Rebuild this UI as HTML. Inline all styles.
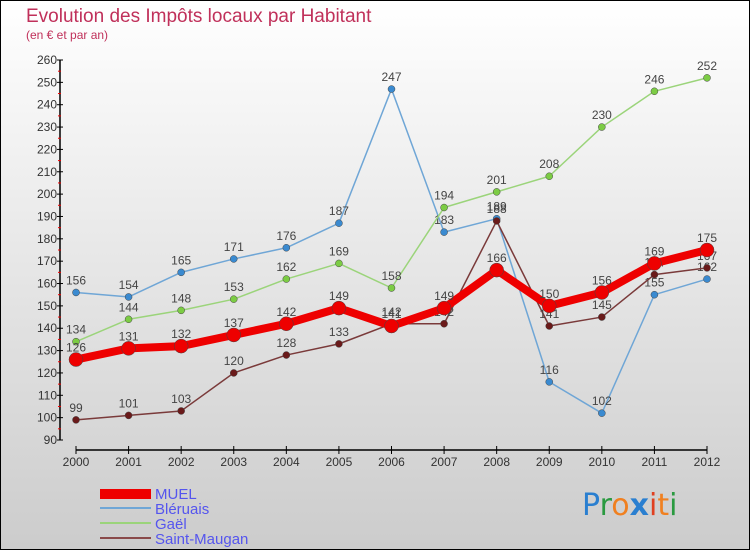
<!DOCTYPE html>
<html><head><meta charset="utf-8"><style>
body{margin:0;}
#wrap{width:750px;height:550px;position:relative;overflow:hidden;}
svg{display:block;font-family:"Liberation Sans",sans-serif;}
</style></head><body>
<div id="wrap">
<svg id="chart" width="750" height="550">
<defs><linearGradient id="bg" x1="0" y1="0" x2="0" y2="1"><stop offset="0" stop-color="#ffffff"/><stop offset="1" stop-color="#cccccc"/></linearGradient></defs>
<rect x="0.5" y="0.5" width="749" height="549" fill="url(#bg)" stroke="#000"/>
<text x="26" y="22" font-size="19" fill="#c0305a">Evolution des Impôts locaux par Habitant</text>
<text x="26" y="39" font-size="12" fill="#c0305a">(en € et par an)</text>
<g id="axes"></g>
<g id="series"></g>
<g id="legend">
<rect x="100" y="489" width="51" height="10" fill="#ee0000"/>
<text x="155" y="499" font-size="15" fill="#5555ee">MUEL</text>
<line x1="100" y1="508" x2="151" y2="508" stroke="#6fa6d6" stroke-width="2"/>
<text x="155" y="514" font-size="15" fill="#5555ee">Bléruais</text>
<line x1="100" y1="523" x2="151" y2="523" stroke="#9bd47a" stroke-width="2"/>
<text x="155" y="529" font-size="15" fill="#5555ee">Gaël</text>
<line x1="100" y1="538" x2="151" y2="538" stroke="#8a4a4a" stroke-width="2"/>
<text x="155" y="544" font-size="15" fill="#5555ee">Saint-Maugan</text>
</g>
<g font-size="30" font-family="'DejaVu Sans',sans-serif">
<text x="582" y="515"><tspan fill="#2a7fd0">P</tspan><tspan fill="#2a9a40">r</tspan><tspan fill="#f08020">o</tspan><tspan fill="#2a7fd0" font-weight="bold">x</tspan><tspan fill="#e04020">i</tspan><tspan fill="#f08020">t</tspan><tspan fill="#2a9a40">i</tspan></text>
</g>
</svg>
</div>
<script>
const years=["2000","2001","2002","2003","2004","2005","2006","2007","2008","2009","2010","2011","2012"];
const yTicks=[90,100,110,120,130,140,150,160,170,180,190,200,210,220,230,240,250,260];
const muel=[126,131,132,137,142,149,141,149,166,150,156,169,175];
const bleruais=[156,154,165,171,176,187,247,183,189,116,102,155,162];
const gael=[134,144,148,153,162,169,158,194,201,208,230,246,252];
const saintMaugan=[99,101,103,120,128,133,142,142,188,141,145,164,167];

const NS="http://www.w3.org/2000/svg";
const x0=76,x1=707,yTop=60,yBot=440,vMin=90,vMax=260,xAxisY=450;
function xs(i){return x0+(x1-x0)*i/(years.length-1);}
function ys(v){return yBot-(v-vMin)*(yBot-yTop)/(vMax-vMin);}
function mk(tag,attrs,parent){const e=document.createElementNS(NS,tag);for(const k in attrs)e.setAttribute(k,attrs[k]);parent.appendChild(e);return e;}
const axes=document.getElementById('axes');
const ya=mk('line',{x1:60,y1:yTop,x2:60,y2:yBot,stroke:'#000','stroke-width':1.5},axes);


yTicks.forEach(v=>{
  const t=mk('line',{x1:57,y1:ys(v),x2:63,y2:ys(v),stroke:'#000'},axes);
  
  
  if(v<260){mk('line',{x1:58,y1:ys(v+5),x2:61,y2:ys(v+5),stroke:'#e00'},axes);}
  const l=mk('text',{x:57,y:ys(v)+4,'text-anchor':'end','font-size':12,fill:'#333'},axes);
  l.textContent=v;
  
  
});
const xa=mk('line',{x1:x0,y1:xAxisY,x2:x1,y2:xAxisY,stroke:'#000','stroke-width':1.5},axes);


years.forEach((y,i)=>{
  mk('line',{x1:xs(i),y1:xAxisY-4,x2:xs(i),y2:xAxisY+4,stroke:'#000'},axes);
  const l=mk('text',{x:xs(i),y:xAxisY+16,'text-anchor':'middle','font-size':12,fill:'#333'},axes);
  l.textContent=y;
  
  
});
const sg=document.getElementById('series');
function draw(name,data,color,width,r,ptColor){
  const g=mk('g',{},sg);
  
  
  const p=mk('polyline',{points:data.map((v,i)=>xs(i)+','+ys(v)).join(' '),fill:'none',stroke:color,'stroke-width':width,'stroke-linejoin':'round'},g);
  
  
  data.forEach((v,i)=>{
    const c=mk('circle',{cx:xs(i),cy:ys(v),r:r,fill:ptColor,stroke:'#444','stroke-width':0.5},g);
    
    
    const t=mk('text',{x:xs(i),y:ys(v)-8,'text-anchor':'middle','font-size':12,fill:'#444'},g);
    t.textContent=v;
    
    
  });
}
draw('bleruais',bleruais,'#6fa6d6',1.5,3.5,'#3a8ad0');
draw('gael',gael,'#9bd47a',1.5,3.5,'#7ccc44');
draw('saint-maugan',saintMaugan,'#7a3a3a',1.5,3.5,'#6a1a1a');
draw('muel',muel,'#ee0000',8,7,'#ee0000');
</script>
</body></html>
